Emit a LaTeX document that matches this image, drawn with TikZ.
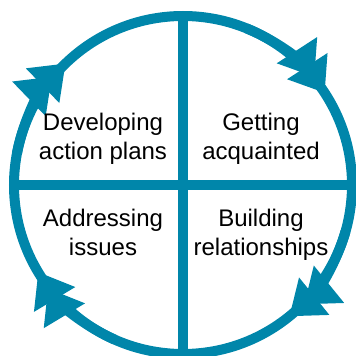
\documentclass[tikz,border=0pt]{standalone}
\usepackage{fontspec}
\setmainfont{Liberation Sans}
\usetikzlibrary{arrows.meta}
\definecolor{cycleblue}{HTML}{0086AA}
\tikzstyle{ring}=[circle,draw=cycleblue,line width=10pt,minimum size=338pt,inner sep=0pt,outer sep=0pt]
\tikzstyle{divider}=[draw=cycleblue,line width=10pt]
\tikzstyle{turn}=[draw=cycleblue,line width=10pt,-{Triangle[length=32pt,width=46pt,sep=-13pt]Triangle[length=32pt,width=46pt]}]
\tikzstyle{stage}=[align=center,anchor=base,font=\fontsize{24}{29}\selectfont,inner sep=0pt]

\begin{document}
\begin{tikzpicture}[x=1pt,y=1pt]
	\useasboundingbox (-183,-171) rectangle (173,185);
	\node [style=ring] (ring) at (0,0) {};
	\draw [style=divider] (ring.north) to (ring.south);
	\draw [style=divider] (ring.west) to (ring.east);
	% one arrow per quarter, all running clockwise
	\draw [style=turn] (ring.68) arc[start angle=68, end angle=33, radius=169pt];
	\draw [style=turn] (ring.-16) arc[start angle=-16, end angle=-51, radius=169pt];
	\draw [style=turn] (ring.246) arc[start angle=246, end angle=211, radius=169pt];
	\draw [style=turn] (ring.169) arc[start angle=169, end angle=134, radius=169pt];
	% the base anchor sits on the last line
	\node [style=stage] (plans) at (-80,25) {Developing\\action plans};
	\node [style=stage] (acquainted) at (78,25) {Getting\\acquainted};
	\node [style=stage] (issues) at (-80,-70) {Addressing\\issues};
	\node [style=stage] (relations) at (78,-70) {Building\\relationships};
\end{tikzpicture}
\end{document}
